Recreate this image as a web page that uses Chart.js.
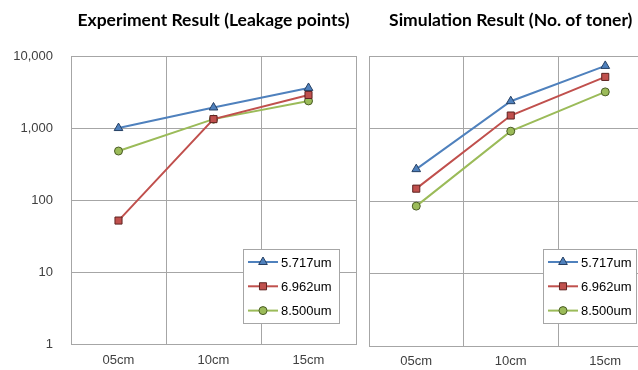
<!DOCTYPE html>
<html>
<head>
<meta charset="utf-8">
<script src="https://cdn.jsdelivr.net/npm/chart.js@4.4.1/dist/chart.umd.min.js"></script>
<style>
  body { margin: 0; background: #fff; overflow: hidden; }
  #wrap { position: relative; width: 638px; height: 370px; overflow: hidden; }
  #c1 { position: absolute; left: 0; top: 0; }
  #c2 { position: absolute; left: 363px; top: 0; }
</style>
</head>
<body>
<div id="wrap">
  <canvas id="c1" width="362" height="370"></canvas>
  <canvas id="c2" width="300" height="370"></canvas>
</div>
<script>
// categories and series
const sizes = ["05cm", "10cm", "15cm"];
const seriesLabels = ["5.717um", "6.962um", "8.500um"];
const yTicks = [1, 10, 100, 1000, 10000];

// Experiment Result (Leakage points)
const exp5717 = [1000, 1930, 3600];
const exp6962 = [52, 1330, 2880];
const exp8500 = [480, 1330, 2380];

// Simulation Result (No. of toner)
const sim5717 = [275, 2380, 7300];
const sim6962 = [148, 1510, 5150];
const sim8500 = [85, 918, 3200];

const colors = ["#4F81BD", "#C0504D", "#9BBB59"];
const edges = ["#253f63", "#5e2321", "#4a5c26"];
const shapes = ["triangle", "rect", "circle"];
const radii = [5, 5, 4];
const gridColor = "#a6a6a6";

function makeDatasets(series) {
  return series.map((vals, i) => ({
    label: seriesLabels[i],
    data: vals,
    borderColor: colors[i],
    backgroundColor: colors[i],
    borderWidth: 2,
    pointStyle: shapes[i],
    pointRadius: radii[i],
    pointBackgroundColor: colors[i],
    pointBorderColor: edges[i],
    pointBorderWidth: 1,
    tension: 0,
  }));
}

// frame, title and in-plot legend
const panelPlugin = {
  id: "panel",
  beforeDatasetsDraw(chart, args, opts) {
    const a = chart.chartArea;
    const ctx = chart.ctx;
    ctx.save();
    ctx.strokeStyle = gridColor;
    ctx.lineWidth = 1;
    ctx.strokeRect(Math.round(a.left) + 0.5, Math.round(a.top) + 0.5,
      Math.round(a.right - a.left), Math.round(a.bottom - a.top));
    ctx.restore();
  },
  afterDraw(chart, args, opts) {
    const a = chart.chartArea;
    const ctx = chart.ctx;
    ctx.save();
    // title
    ctx.fillStyle = "#000";
    ctx.font = "bold 17.5px Lato";
    ctx.textAlign = "center";
    ctx.textBaseline = "middle";
    ctx.fillText(opts.title, (a.left + a.right) / 2, 20);

    // legend
    const b = opts.box;
    ctx.fillStyle = "#fff";
    ctx.fillRect(b.x, b.y, b.w, b.h);
    ctx.strokeStyle = gridColor;
    ctx.lineWidth = 1;
    ctx.strokeRect(b.x + 0.5, b.y + 0.5, b.w, b.h);
    chart.data.datasets.forEach((ds, i) => {
      const cy = b.y + 13 + i * 24.3;
      ctx.strokeStyle = ds.borderColor;
      ctx.lineWidth = 2;
      ctx.beginPath();
      ctx.moveTo(b.x + 5, cy);
      ctx.lineTo(b.x + 35, cy);
      ctx.stroke();
      ctx.fillStyle = ds.pointBackgroundColor;
      ctx.strokeStyle = ds.pointBorderColor;
      ctx.lineWidth = 1;
      Chart.helpers.drawPoint(ctx, {
        pointStyle: ds.pointStyle,
        radius: ds.pointRadius,
        borderWidth: 1,
        rotation: 0,
      }, b.x + 20, cy);
      ctx.fillStyle = "#000";
      ctx.font = "13px 'Liberation Sans'";
      ctx.textAlign = "left";
      ctx.textBaseline = "middle";
      ctx.fillText(ds.label, b.x + 38, cy + 1);
    });
    ctx.restore();
  },
};

function makeConfig(series, title, box, yWidth, showTicks, padRight) {
  return {
    type: "line",
    data: { labels: sizes, datasets: makeDatasets(series) },
    plugins: [panelPlugin],
    options: {
      responsive: false,
      animation: false,
      layout: { padding: { top: 56, right: padRight, left: 0, bottom: 0 } },
      plugins: {
        legend: { display: false },
        title: { display: false },
        tooltip: { enabled: false },
        panel: { title: title, box: box },
      },
      scales: {
        x: {
          type: "category",
          offset: true,
          grid: { color: gridColor, offset: true, drawTicks: false },
          border: { color: gridColor },
          ticks: {
            color: "#404040",
            padding: 8,
            font: { family: "'Liberation Sans'", size: 13 },
          },
          afterFit: (s) => { s.height = 24; },
        },
        y: {
          type: "logarithmic",
          min: 1,
          max: 10000,
          grid: { color: gridColor, drawTicks: false },
          border: { color: gridColor },
          afterBuildTicks: (s) => { s.ticks = yTicks.map((v) => ({ value: v })); },
          afterFit: (s) => { s.width = yWidth; },
          ticks: {
            display: showTicks,
            color: "#404040",
            padding: 18,
            font: { family: "'Liberation Sans'", size: 13 },
            callback: (v) => Number(v).toLocaleString("en-US"),
          },
        },
      },
    },
  };
}

const myChart1 = new Chart(document.getElementById("c1"),
  makeConfig([exp5717, exp6962, exp8500], "Experiment Result (Leakage points)",
    { x: 243, y: 249, w: 96, h: 74 }, 71, true, 5));

const myChart2 = new Chart(document.getElementById("c2"),
  makeConfig([sim5717, sim6962, sim8500], "Simulation Result (No. of toner)",
    { x: 180, y: 249, w: 93, h: 74 }, 3, false, 10.5));
</script>
</body>
</html>
